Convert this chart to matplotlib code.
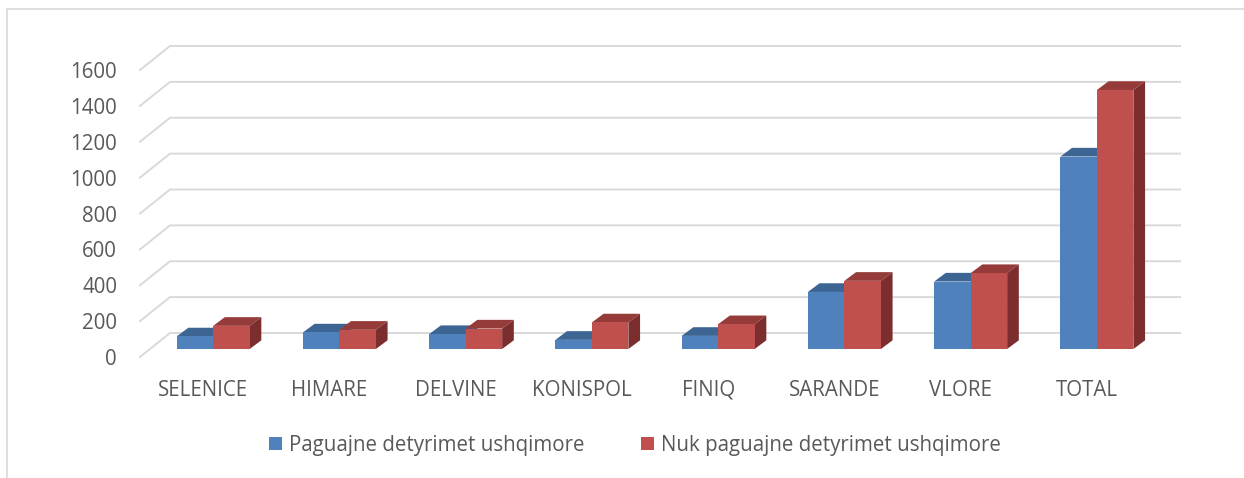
import matplotlib.pyplot as plt
from matplotlib.patches import Polygon, Rectangle, Patch

plt.rcParams['font.family'] = ['Open Sans', 'DejaVu Sans']
plt.rcParams['font.size'] = 14.8

# === ДАННЫЕ ===
categories = ['SELENICE', 'HIMARE', 'DELVINE', 'KONISPOL', 'FINIQ', 'SARANDE', 'VLORE', 'TOTAL']
paguajne = [70, 92, 83, 51, 73, 318, 376, 1073]
nuk_paguajne = [129, 107, 114, 148, 138, 380, 423, 1444]
series_names = ['Paguajne detyrimet ushqimore', 'Nuk paguajne detyrimet ushqimore']
y_ticks = [0, 200, 400, 600, 800, 1000, 1200, 1400, 1600]

# цвета: лицевая грань, верх, бок
colors = {
    'blue': ('#4F81BD', '#3C6594', '#385D8A'),
    'red': ('#C0504D', '#953B39', '#7B2E2D'),
}
grid_color = '#D9D9D9'
text_color = '#595959'

W, H = 1244, 478
fig = plt.figure(figsize=(W / 100, H / 100), dpi=100)
ax = fig.add_axes([140 / W, 121 / H, 1010 / W, 287 / H])
ax.set_xlim(-0.5, len(categories) - 0.5)
ax.set_ylim(0, 1600)

# пиксели -> единицы данных
DX = len(categories) / 1010
DY = 1600 / 287

wall_dx, wall_dy = 30 * DX, 24 * DY      # задняя стенка
front_dx, front_dy = 10 * DX, 8 * DY     # передняя грань столбцов
depth_dx, depth_dy = 11.7 * DX, 8.7 * DY  # глубина столбцов
bar_w = 36.5 * DX

# сетка: диагональ слева + линия на задней стенке
x_left, x_right = -0.5, len(categories) - 0.5
for v in y_ticks:
    ax.plot([x_left, x_left + wall_dx, x_right + wall_dx],
            [v, v + wall_dy, v + wall_dy],
            color=grid_color, lw=1.4, clip_on=False, zorder=1,
            solid_joinstyle='miter')

# столбцы
for i, cat in enumerate(categories):
    cx = i + front_dx
    for vals, key, x0 in [(paguajne, 'blue', cx - bar_w),
                          (nuk_paguajne, 'red', cx)]:
        v = vals[i]
        c_front, c_top, c_side = colors[key]
        b = front_dy
        x1 = x0 + bar_w
        ax.bar(x0, v, width=bar_w, bottom=b, align='edge', color=c_front,
               clip_on=False, zorder=3, linewidth=0)
        top = Polygon([(x0, b + v), (x1, b + v),
                       (x1 + depth_dx, b + v + depth_dy),
                       (x0 + depth_dx, b + v + depth_dy)],
                      closed=True, facecolor=c_top, lw=0, clip_on=False, zorder=2.9)
        side = Polygon([(x1, b), (x1, b + v),
                        (x1 + depth_dx, b + v + depth_dy),
                        (x1 + depth_dx, b + depth_dy)],
                       closed=True, facecolor=c_side, lw=0, clip_on=False, zorder=2.9)
        ax.add_patch(top)
        ax.add_patch(side)

# оси
for s in ax.spines.values():
    s.set_visible(False)
ax.set_yticks(y_ticks)
ax.set_yticklabels([str(t) for t in y_ticks])
ax.set_xticks(range(len(categories)))
ax.set_xticklabels(categories)
ax.tick_params(axis='y', length=0, pad=16.5, colors=text_color)
ax.tick_params(axis='x', length=0, pad=16.5, colors=text_color)
ax.patch.set_visible(False)

# легенда
handles = [Patch(facecolor=colors['blue'][0]), Patch(facecolor=colors['red'][0])]
leg = fig.legend(handles, series_names, loc='center',
                 bbox_to_anchor=(635 / W, 1 - 445 / H), ncol=2, frameon=False,
                 handlelength=0.63, handleheight=0.63, handletextpad=0.34,
                 columnspacing=2.75, fontsize=14.8)
for t in leg.get_texts():
    t.set_color(text_color)

# рамка
fig.patches.append(Rectangle((7 / W, -0.1), 1.2, 1.1 - 9 / H,
                             transform=fig.transFigure, fill=False,
                             edgecolor=grid_color, lw=1.2))

fig.savefig('out.png', dpi=100)
